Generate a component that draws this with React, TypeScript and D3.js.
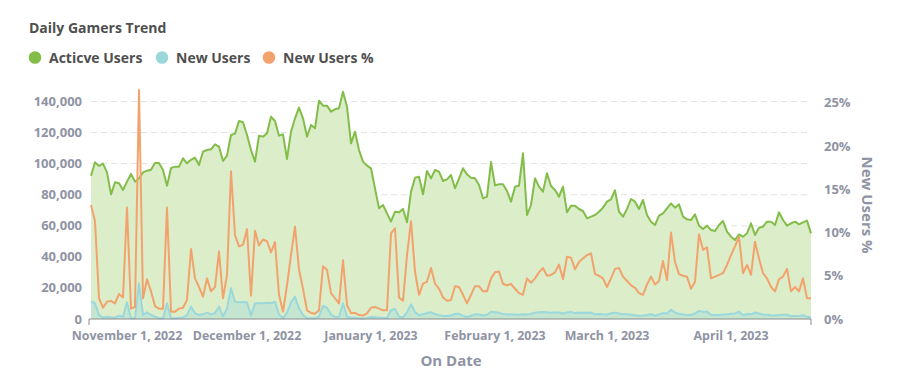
import React from 'react';
import * as d3 from 'd3';

const startDate = '2022-10-23';

const activeUsers = [
  92240, 100850, 98490, 99990, 94410, 80250, 87980, 87330, 83040, 88400,
  93340, 88400, 90550, 94410, 95480, 96120, 100420, 100420, 95910, 85830,
  97200, 98060, 98060, 103420, 100210, 102500, 103850, 99130, 107700, 108790,
  109220, 112440, 110940, 101700, 105130, 118440, 119300, 127450, 126600, 118440,
  108790, 101270, 118010, 117370, 119510, 130240, 127450, 118010, 118870, 103000,
  120580, 129170, 136040, 129170, 117370, 124880, 122730, 140540, 137320, 137320,
  133460, 134970, 135610, 146340, 136680, 113080, 120580, 108790, 101270, 98700,
  97000, 84110, 71230, 73380, 68020, 62650, 69090, 68660, 70810, 62230,
  81970, 90980, 91620, 80250, 95270, 90550, 95910, 94840, 88830, 89900,
  92690, 84110, 90550, 97000, 93120, 90980, 90550, 86260, 77680, 78740,
  101000, 86000, 86690, 86690, 82390, 75530, 85190, 85830, 106630, 66940,
  73380, 90550, 85190, 81970, 93770, 85620, 83040, 78740, 85190, 68660,
  72950, 72950, 70810, 69520, 64800, 65870, 66940, 69000, 71660, 75530,
  77030, 82800, 69090, 65870, 70810, 77240, 75530, 70810, 76600, 66940,
  62650, 60510, 66510, 68020, 71230, 74450, 71660, 73810, 65870, 64160,
  63730, 67380, 60000, 57930, 60080, 57290, 56650, 60510, 63080, 56220,
  53000, 50850, 54500, 53000, 55140, 61600, 54070, 58790, 59430, 62650,
  62650, 60510, 68660, 63730, 60080, 61600, 62650, 60940, 62230, 63300,
  55140,
];

const newUsers = [
  11590, 10090, 2570, 860, 1500, 1070, 860, 2150, 1500, 10730,
  430, 430, 22960, 2570, 4290, 2570, 1500, 430, 430, 10090,
  430, 430, 860, 860, 2570, 7940, 3650, 2570, 3000, 4080,
  3000, 3650, 7940, 1500, 6870, 19740, 11160, 10730, 10730, 10730,
  2150, 10090, 10090, 10090, 10520, 10090, 11160, 3000, 430, 4080,
  10730, 14380, 6870, 2570, 430, 430, 430, 1500, 8370, 7300,
  3000, 1290, 1500, 10090, 1500, 790, 840, 500, 400, 650,
  1260, 1180, 850, 730, 680, 5790, 6440, 1500, 1200, 4200,
  9440, 4500, 2400, 3000, 3860, 4300, 3200, 2500, 2000, 1900,
  2200, 3200, 3300, 2000, 1300, 2100, 3000, 2900, 2300, 2700,
  4720, 4400, 4000, 3300, 2900, 3000, 2800, 2800, 3000, 2900,
  3200, 4100, 4400, 4500, 4400, 4100, 4200, 4200, 3500, 4200,
  4600, 3800, 4000, 4100, 4100, 4000, 3000, 3200, 3000, 2900,
  3700, 4100, 3500, 3100, 3000, 2800, 2400, 2150, 2300, 2600,
  3000, 2300, 2950, 3800, 3500, 6000, 4100, 3400, 2900, 2600,
  2600, 3500, 5200, 4500, 4800, 2600, 2500, 2600, 2900, 3000,
  3400, 3600, 4700, 2500, 3200, 3000, 4200, 3500, 2800, 2700,
  2400, 2200, 2600, 2800, 2800, 1900, 2000, 1850, 2500, 1400,
  1100,
];

const newUsersPct = [
  13.2, 11.3, 2.4, 1.3, 2.0, 2.1, 1.8, 2.9, 2.5, 12.9,
  1.2, 1.4, 26.5, 2.4, 4.6, 3.2, 1.5, 1.2, 1.2, 12.9,
  0.85, 0.85, 1.2, 1.3, 2.2, 8.1, 4.7, 3.7, 2.6, 4.7,
  3.2, 3.7, 7.8, 2.4, 5.1, 17.1, 9.7, 8.4, 8.6, 10.4,
  2.7, 10.2, 8.5, 9.2, 9.0, 7.7, 8.9, 2.8, 0.85, 3.9,
  7.4, 10.7, 5.7, 3.5, 1.0, 0.7, 0.6, 1.0, 6.1, 5.7,
  3.0, 2.4, 1.8, 6.8, 1.6, 0.7, 0.7, 0.46, 0.4, 0.66,
  1.3, 1.4, 1.2, 1.0, 1.0, 9.9, 10.5, 2.5, 2.1, 7.4,
  11.3, 5.5, 2.8, 4.1, 4.3, 5.9, 4.1, 3.5, 2.5, 2.1,
  2.2, 3.8, 3.7, 2.8, 1.8, 2.8, 3.8, 3.8, 3.2, 3.2,
  4.7, 5.4, 5.5, 4.05, 3.9, 4.05, 3.5, 3.0, 2.8, 4.7,
  4.2, 4.7, 5.4, 5.9, 5.0, 5.1, 5.4, 6.3, 4.6, 7.2,
  7.1, 5.75, 6.6, 7.0, 7.4, 7.6, 5.2, 5.0, 4.7, 3.7,
  4.7, 5.8, 5.9, 4.9, 4.4, 3.9, 3.6, 3.0, 2.8, 4.0,
  4.9, 4.0, 4.4, 6.7, 4.5, 10.0, 6.6, 5.2, 5.0, 4.9,
  3.5, 4.3, 9.8, 8.0, 8.3, 4.7, 4.9, 5.1, 5.3, 6.25,
  7.4, 8.4, 9.5, 5.3, 6.25, 5.1, 8.95, 7.0, 5.3, 4.7,
  3.7, 3.2, 4.6, 4.9, 5.8, 3.2, 3.7, 3.2, 4.7, 2.4,
  2.4,
];

const leftTicks = [0, 20000, 40000, 60000, 80000, 100000, 120000, 140000];
const rightTicks = [0, 5, 10, 15, 20, 25];
const xTickDates = ['2022-11-01', '2022-12-01', '2023-01-01', '2023-02-01', '2023-03-01', '2023-04-01'];
const xTickLabels = ['November 1, 2022', 'December 1, 2022', 'January 1, 2023', 'February 1, 2023', 'March 1, 2023', 'April 1, 2023'];
const legendLabels = ['Acticve Users', 'New Users', 'New Users %'];
const seriesColors = ['#82bd4a', '#9ad8dc', '#f2a36d'];

const W = 907;
const H = 383;
const M = { left: 91, right: 811, top: 90, bottom: 319 };
const FONT = '"Open Sans", "DejaVu Sans", sans-serif';
const AXIS_COLOR = '#8f93a3';
const TEXT_COLOR = '#4f4f4f';

export default function App() {
  const start = new Date(startDate + 'T00:00:00Z');
  const dates = activeUsers.map((_, i) => d3.utcDay.offset(start, i));
  const x = d3.scaleUtc().domain([dates[0], dates[dates.length - 1]]).range([M.left, M.right]);
  const yL = d3.scaleLinear().domain([0, 147400]).range([M.bottom, M.top]);
  const yR = d3.scaleLinear().domain([0, 26.5]).range([M.bottom, M.top]);

  const idx = d3.range(activeUsers.length);
  const areaActive = d3.area<number>().x(i => x(dates[i])).y0(yL(0)).y1(i => yL(activeUsers[i]))(idx) || '';
  const lineActive = d3.line<number>().x(i => x(dates[i])).y(i => yL(activeUsers[i]))(idx) || '';
  const areaNew = d3.area<number>().x(i => x(dates[i])).y0(yL(0)).y1(i => yL(newUsers[i]))(idx) || '';
  const lineNew = d3.line<number>().x(i => x(dates[i])).y(i => yL(newUsers[i]))(idx) || '';
  const linePct = d3.line<number>().x(i => x(dates[i])).y(i => yR(newUsersPct[i]))(idx) || '';

  const fmt = d3.format(',');
  const legendX = [35, 162, 269];

  return (
    <svg width={W} height={H} style={{ position: 'absolute', left: 0, top: 0, background: '#fff' }} fontFamily={FONT}>
      <text x={29} y={33} fontSize={14} fontWeight={700} fill={TEXT_COLOR}>Daily Gamers Trend</text>
      {legendLabels.map((l, i) => (
        <g key={l}>
          <circle cx={legendX[i]} cy={57.5} r={6.3} fill={seriesColors[i]} />
          <text x={legendX[i] + 14} y={62.5} fontSize={14} fontWeight={700} fill={TEXT_COLOR}>{l}</text>
        </g>
      ))}

      {leftTicks.filter(t => t > 0).map(t => (
        <line key={'g' + t} x1={M.left} x2={M.right} y1={yL(t)} y2={yL(t)} stroke="#e3e3e3" strokeDasharray="6,4" />
      ))}

      <path d={areaActive} fill="#dcedc9" />
      <path d={areaNew} fill="#a6dcd6" fillOpacity={0.45} />
      <path d={lineActive} fill="none" stroke={seriesColors[0]} strokeWidth={2} strokeLinejoin="round" />
      <path d={lineNew} fill="none" stroke={seriesColors[1]} strokeWidth={2} strokeLinejoin="round" />
      <path d={linePct} fill="none" stroke={seriesColors[2]} strokeWidth={2} strokeLinejoin="round" />

      <path d={`M${M.left - 2},${M.bottom + 6}V${M.bottom}H${M.right}V${M.bottom + 6}`} fill="none" stroke="#8a8a8a" strokeWidth={1} />

      {leftTicks.map(t => (
        <text key={'l' + t} x={82} y={yL(t) + 4.5} textAnchor="end" fontSize={13} fontWeight={700} fill={AXIS_COLOR}>{fmt(t)}</text>
      ))}
      {rightTicks.map(t => (
        <text key={'r' + t} x={824} y={yR(t) + 4.5} textAnchor="start" fontSize={13} fontWeight={700} fill={AXIS_COLOR}>{t + '%'}</text>
      ))}
      {xTickDates.map((d, i) => (
        <text key={d} x={x(new Date(d + 'T00:00:00Z'))} y={340} textAnchor="middle" fontSize={12.4} fontWeight={700} fill={AXIS_COLOR}>{xTickLabels[i]}</text>
      ))}
      <text x={451} y={366} textAnchor="middle" fontSize={15} fontWeight={700} fill={AXIS_COLOR}>On Date</text>
      <text transform={`translate(862,205) rotate(90)`} textAnchor="middle" fontSize={15} fontWeight={700} fill={AXIS_COLOR}>New Users %</text>
    </svg>
  );
}
